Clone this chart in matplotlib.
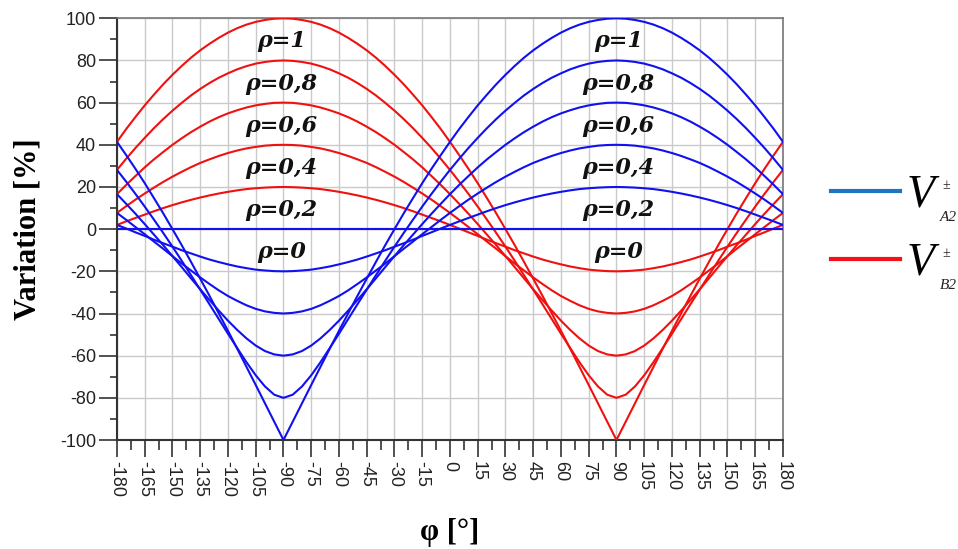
"""Variation of V_A2 / V_B2 versus phase angle for several rho values."""

import matplotlib

matplotlib.use("Agg")
import matplotlib.pyplot as plt
from matplotlib.lines import Line2D
from matplotlib.ticker import MultipleLocator

plt.rcParams["axes.unicode_minus"] = False

# phase angle (deg), every 5 degrees
phi = [-180, -175, -170, -165, -160, -155, -150, -145, -140, -135, -130, -125,
       -120, -115, -110, -105, -100, -95, -90, -85, -80, -75, -70, -65, -60,
       -55, -50, -45, -40, -35, -30, -25, -20, -15, -10, -5, 0, 5, 10, 15, 20,
       25, 30, 35, 40, 45, 50, 55, 60, 65, 70, 75, 80, 85, 90, 95, 100, 105,
       110, 115, 120, 125, 130, 135, 140, 145, 150, 155, 160, 165, 170, 175, 180]

rho_values = [1.0, 0.8, 0.6, 0.4, 0.2, 0.0]
rho_labels = ["ρ=1", "ρ=0,8", "ρ=0,6", "ρ=0,4", "ρ=0,2", "ρ=0"]

# V_A2 variation [%] (blue)
a2_rho_1 = [41.4, 35.1, 28.6, 21.8, 14.7, 7.5, 0.0, -7.6, -15.5, -23.5, -31.6, -39.9, -48.2, -56.7, -65.3, -73.9, -82.6, -91.3, -100.0,
            -91.3, -82.6, -73.9, -65.3, -56.7, -48.2, -39.9, -31.6, -23.5, -15.5, -7.6, 0.0, 7.5, 14.7, 21.8, 28.6, 35.1, 41.4,
            47.5, 53.2, 58.7, 63.8, 68.7, 73.2, 77.4, 81.3, 84.8, 87.9, 90.7, 93.2, 95.3, 97.0, 98.3, 99.2, 99.8, 100.0,
            99.8, 99.2, 98.3, 97.0, 95.3, 93.2, 90.7, 87.9, 84.8, 81.3, 77.4, 73.2, 68.7, 63.8, 58.7, 53.2, 47.5, 41.4]
a2_rho_08 = [28.1, 22.5, 16.7, 10.7, 4.5, -1.8, -8.3, -15.0, -21.8, -28.7, -35.6, -42.6, -49.6, -56.4, -63.1, -69.3, -74.6, -78.5, -80.0,
             -78.5, -74.6, -69.3, -63.1, -56.4, -49.6, -42.6, -35.6, -28.7, -21.8, -15.0, -8.3, -1.8, 4.5, 10.7, 16.7, 22.5, 28.1,
             33.4, 38.5, 43.3, 47.9, 52.2, 56.2, 59.9, 63.4, 66.5, 69.3, 71.8, 73.9, 75.8, 77.3, 78.5, 79.3, 79.8, 80.0,
             79.8, 79.3, 78.5, 77.3, 75.8, 73.9, 71.8, 69.3, 66.5, 63.4, 59.9, 56.2, 52.2, 47.9, 43.3, 38.5, 33.4, 28.1]
a2_rho_06 = [16.6, 12.0, 7.3, 2.4, -2.6, -7.6, -12.8, -18.0, -23.3, -28.5, -33.6, -38.6, -43.4, -47.8, -51.8, -55.2, -57.8, -59.4, -60.0,
             -59.4, -57.8, -55.2, -51.8, -47.8, -43.4, -38.6, -33.6, -28.5, -23.3, -18.0, -12.8, -7.6, -2.6, 2.4, 7.3, 12.0, 16.6,
             21.0, 25.2, 29.3, 33.1, 36.6, 40.0, 43.1, 46.0, 48.6, 51.0, 53.1, 54.9, 56.4, 57.7, 58.7, 59.4, 59.9, 60.0,
             59.9, 59.4, 58.7, 57.7, 56.4, 54.9, 53.1, 51.0, 48.6, 46.0, 43.1, 40.0, 36.6, 33.1, 29.3, 25.2, 21.0, 16.6]
a2_rho_04 = [7.7, 4.4, 1.0, -2.4, -5.9, -9.3, -12.8, -16.3, -19.6, -22.9, -26.0, -29.0, -31.7, -34.0, -36.1, -37.8, -39.0, -39.7, -40.0,
             -39.7, -39.0, -37.8, -36.1, -34.0, -31.7, -29.0, -26.0, -22.9, -19.6, -16.3, -12.8, -9.3, -5.9, -2.4, 1.0, 4.4, 7.7,
             10.9, 14.0, 16.9, 19.7, 22.4, 24.9, 27.2, 29.4, 31.4, 33.1, 34.7, 36.1, 37.3, 38.3, 39.0, 39.6, 39.9, 40.0,
             39.9, 39.6, 39.0, 38.3, 37.3, 36.1, 34.7, 33.1, 31.4, 29.4, 27.2, 24.9, 22.4, 19.7, 16.9, 14.0, 10.9, 7.7]
a2_rho_02 = [2.0, 0.3, -1.5, -3.2, -5.0, -6.7, -8.3, -10.0, -11.5, -13.0, -14.4, -15.6, -16.7, -17.7, -18.5, -19.2, -19.6, -19.9, -20.0,
             -19.9, -19.6, -19.2, -18.5, -17.7, -16.7, -15.6, -14.4, -13.0, -11.5, -10.0, -8.3, -6.7, -5.0, -3.2, -1.5, 0.3, 2.0,
             3.7, 5.3, 6.9, 8.5, 10.0, 11.4, 12.7, 13.9, 15.0, 16.0, 16.9, 17.7, 18.4, 19.0, 19.4, 19.7, 19.9, 20.0,
             19.9, 19.7, 19.4, 19.0, 18.4, 17.7, 16.9, 16.0, 15.0, 13.9, 12.7, 11.4, 10.0, 8.5, 6.9, 5.3, 3.7, 2.0]
a2_rho_0 = [0.0] * len(phi)

# V_B2 variation [%] (red)
b2_rho_1 = [41.4, 47.5, 53.2, 58.7, 63.8, 68.7, 73.2, 77.4, 81.3, 84.8, 87.9, 90.7, 93.2, 95.3, 97.0, 98.3, 99.2, 99.8, 100.0,
            99.8, 99.2, 98.3, 97.0, 95.3, 93.2, 90.7, 87.9, 84.8, 81.3, 77.4, 73.2, 68.7, 63.8, 58.7, 53.2, 47.5, 41.4,
            35.1, 28.6, 21.8, 14.7, 7.5, 0.0, -7.6, -15.5, -23.5, -31.6, -39.9, -48.2, -56.7, -65.3, -73.9, -82.6, -91.3, -100.0,
            -91.3, -82.6, -73.9, -65.3, -56.7, -48.2, -39.9, -31.6, -23.5, -15.5, -7.6, 0.0, 7.5, 14.7, 21.8, 28.6, 35.1, 41.4]
b2_rho_08 = [28.1, 33.4, 38.5, 43.3, 47.9, 52.2, 56.2, 59.9, 63.4, 66.5, 69.3, 71.8, 73.9, 75.8, 77.3, 78.5, 79.3, 79.8, 80.0,
             79.8, 79.3, 78.5, 77.3, 75.8, 73.9, 71.8, 69.3, 66.5, 63.4, 59.9, 56.2, 52.2, 47.9, 43.3, 38.5, 33.4, 28.1,
             22.5, 16.7, 10.7, 4.5, -1.8, -8.3, -15.0, -21.8, -28.7, -35.6, -42.6, -49.6, -56.4, -63.1, -69.3, -74.6, -78.5, -80.0,
             -78.5, -74.6, -69.3, -63.1, -56.4, -49.6, -42.6, -35.6, -28.7, -21.8, -15.0, -8.3, -1.8, 4.5, 10.7, 16.7, 22.5, 28.1]
b2_rho_06 = [16.6, 21.0, 25.2, 29.3, 33.1, 36.6, 40.0, 43.1, 46.0, 48.6, 51.0, 53.1, 54.9, 56.4, 57.7, 58.7, 59.4, 59.9, 60.0,
             59.9, 59.4, 58.7, 57.7, 56.4, 54.9, 53.1, 51.0, 48.6, 46.0, 43.1, 40.0, 36.6, 33.1, 29.3, 25.2, 21.0, 16.6,
             12.0, 7.3, 2.4, -2.6, -7.6, -12.8, -18.0, -23.3, -28.5, -33.6, -38.6, -43.4, -47.8, -51.8, -55.2, -57.8, -59.4, -60.0,
             -59.4, -57.8, -55.2, -51.8, -47.8, -43.4, -38.6, -33.6, -28.5, -23.3, -18.0, -12.8, -7.6, -2.6, 2.4, 7.3, 12.0, 16.6]
b2_rho_04 = [7.7, 10.9, 14.0, 16.9, 19.7, 22.4, 24.9, 27.2, 29.4, 31.4, 33.1, 34.7, 36.1, 37.3, 38.3, 39.0, 39.6, 39.9, 40.0,
             39.9, 39.6, 39.0, 38.3, 37.3, 36.1, 34.7, 33.1, 31.4, 29.4, 27.2, 24.9, 22.4, 19.7, 16.9, 14.0, 10.9, 7.7,
             4.4, 1.0, -2.4, -5.9, -9.3, -12.8, -16.3, -19.6, -22.9, -26.0, -29.0, -31.7, -34.0, -36.1, -37.8, -39.0, -39.7, -40.0,
             -39.7, -39.0, -37.8, -36.1, -34.0, -31.7, -29.0, -26.0, -22.9, -19.6, -16.3, -12.8, -9.3, -5.9, -2.4, 1.0, 4.4, 7.7]
b2_rho_02 = [2.0, 3.7, 5.3, 6.9, 8.5, 10.0, 11.4, 12.7, 13.9, 15.0, 16.0, 16.9, 17.7, 18.4, 19.0, 19.4, 19.7, 19.9, 20.0,
             19.9, 19.7, 19.4, 19.0, 18.4, 17.7, 16.9, 16.0, 15.0, 13.9, 12.7, 11.4, 10.0, 8.5, 6.9, 5.3, 3.7, 2.0,
             0.3, -1.5, -3.2, -5.0, -6.7, -8.3, -10.0, -11.5, -13.0, -14.4, -15.6, -16.7, -17.7, -18.5, -19.2, -19.6, -19.9, -20.0,
             -19.9, -19.6, -19.2, -18.5, -17.7, -16.7, -15.6, -14.4, -13.0, -11.5, -10.0, -8.3, -6.7, -5.0, -3.2, -1.5, 0.3, 2.0]
b2_rho_0 = [0.0] * len(phi)

a2_curves = [a2_rho_1, a2_rho_08, a2_rho_06, a2_rho_04, a2_rho_02, a2_rho_0]
b2_curves = [b2_rho_1, b2_rho_08, b2_rho_06, b2_rho_04, b2_rho_02, b2_rho_0]

BLUE = "#1010F0"
RED = "#F01010"

fig = plt.figure(figsize=(9.58, 5.49), dpi=100)
ax = fig.add_axes([0.1221, 0.1985, 0.6952, 0.7682])

for ys in b2_curves:
    ax.plot(phi, ys, color=RED, lw=1.5, zorder=3)
for ys in a2_curves:
    ax.plot(phi, ys, color=BLUE, lw=1.5, zorder=3)

# rho labels under the top of each arch
for rho, text in zip(rho_values, rho_labels):
    for x in (-91, 91):
        ax.text(x, 100 * rho - 11, text, ha="center", va="center",
                family="DejaVu Serif", weight="bold", style="italic",
                fontsize=16, color="#111111", zorder=4)

ax.set_xlim(-180, 180)
ax.set_ylim(-100, 100)
ax.xaxis.set_major_locator(MultipleLocator(15))
ax.xaxis.set_minor_locator(MultipleLocator(7.5))
ax.yaxis.set_major_locator(MultipleLocator(20))
ax.yaxis.set_minor_locator(MultipleLocator(10))
ax.grid(True, which="major", color="#CACACA", lw=1.0, zorder=0)

for lab in ax.get_xticklabels():
    lab.set_rotation(-90)
ax.tick_params(axis="x", which="major", length=12, width=1.2, color="#333333",
               labelsize=13, pad=3, labelcolor="#222222")
ax.tick_params(axis="x", which="minor", length=7, width=1.2, color="#333333")
ax.tick_params(axis="y", which="major", length=13, width=1.2, color="#333333",
               labelsize=13, pad=2, labelcolor="#222222")
ax.tick_params(axis="y", which="minor", length=5, width=1.2, color="#333333")
for lab in ax.get_xticklabels() + ax.get_yticklabels():
    lab.set_family("Liberation Sans")

for side in ("left", "bottom"):
    ax.spines[side].set_color("#333333")
    ax.spines[side].set_linewidth(1.5)
for side in ("top", "right"):
    ax.spines[side].set_color("#777777")
    ax.spines[side].set_linewidth(1.2)

ax.set_ylabel("Variation [%]", family="Liberation Serif", weight="bold",
              fontsize=22, va="center")
ax.yaxis.set_label_coords(-0.134, 0.5)
ax.set_xlabel("φ [°]", family="Liberation Serif", weight="bold",
              fontsize=22, va="center")
ax.xaxis.set_label_coords(0.5, -0.22)

# legend: swatches plus V with small scripts
handles = [Line2D([], [], color="#1F74C4", lw=3),
           Line2D([], [], color="#F01418", lw=3)]
leg = ax.legend(handles, ["V", "V"], loc="center left",
                bbox_to_anchor=(1.01, 0.499), frameon=False,
                prop={"family": "Liberation Serif", "style": "italic", "size": 33},
                handlelength=1.5, handletextpad=0.15, labelspacing=0.55)

script_font = {"family": "Liberation Serif", "style": "italic", "color": "#222222"}
fig.text(0.988, 0.662, "±", fontsize=10, ha="center", va="center", **script_font)
fig.text(0.990, 0.604, "A2", fontsize=11, ha="center", va="center", **script_font)
fig.text(0.988, 0.538, "±", fontsize=10, ha="center", va="center", **script_font)
fig.text(0.990, 0.480, "B2", fontsize=11, ha="center", va="center", **script_font)

fig.savefig("out.png", dpi=100)
